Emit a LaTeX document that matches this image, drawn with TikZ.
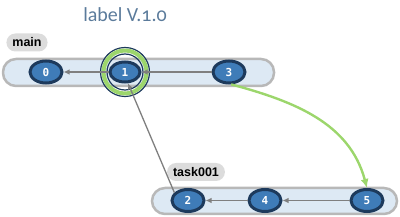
\documentclass[tikz,border=0pt]{standalone}
\usepackage{fontspec}
\setmainfont{Liberation Sans}
\newfontfamily\titlefont[Numbers=OldStyle]{Carlito}
\newfontfamily\commitfont{DejaVu Sans Mono}
\usetikzlibrary{shapes.geometric,arrows.meta}
\definecolor{commitfill}{HTML}{3F7CB8}
\definecolor{commitdraw}{HTML}{1D3A5C}
\definecolor{barfill}{HTML}{DDE9F4}
\definecolor{bardraw}{HTML}{B8B8B8}
\definecolor{tagfill}{HTML}{DCDCDC}
\definecolor{linkgray}{HTML}{7F7F7F}
\definecolor{mergegreen}{HTML}{9CD66C}
\definecolor{titleblue}{HTML}{5B7B9B}
\begin{document}
\begin{tikzpicture}[x=1pt, y=1pt, node distance=79pt]
        % Style Definitions
        \tikzstyle{commit} = [ellipse, draw=commitdraw, fill=commitfill, line width=3pt, minimum width=32pt, minimum height=22pt, inner sep=0pt, text=white, font=\commitfont\bfseries\fontsize{11}{11}\selectfont]
        \tikzstyle{branch} = [rectangle, rounded corners=9pt, fill=tagfill, minimum height=18pt, inner xsep=6pt, font=\bfseries\fontsize{12.5}{13}\selectfont]
        \tikzstyle{lane} = [draw=bardraw, fill=barfill, line width=2.5pt, rounded corners=13pt]
        \tikzstyle{parent} = [draw=linkgray, line width=1.3pt, -{Latex[length=6pt, width=5.5pt]}]
        \tikzstyle{merge} = [draw=mergegreen, line width=2.4pt, -{Latex[length=9pt, width=8pt]}]

        \useasboundingbox (0,0) rectangle (400,217);

        % Lanes
        \draw[lane] (3,131) rectangle (274,158);
        \draw[lane] (152,3) rectangle (397,29);

        % Labels
        \node (title) at (125,202) [text=titleblue, font=\titlefont\fontsize{20}{22}\selectfont] {label V.1.0};
        \node (mainlabel) [branch] at (27,174.5) {main};
        \node (tasklabel) [branch] at (196,45) {task001};

        % Tag ring
        \coordinate (tagpos) at (125,145);
        \draw[commitdraw, line width=1.2pt] (tagpos) circle (24.5pt);
        \draw[mergegreen, line width=4pt] (tagpos) circle (21.5pt);
        \draw[commitdraw, line width=1.2pt] (tagpos) circle (18pt);

        % Commits
        \node (c1) [commit, minimum width=30pt, minimum height=20pt] at (tagpos) {1};
        \node (c0) [commit, left of=c1] {0};
        \node (c3) [commit, right of=c1, xshift=25pt] {3};
        \node (c2) [commit] at (188,16.5) {2};
        \node (c4) [commit, right of=c2, xshift=-2pt] {4};
        \node (c5) [commit, right of=c4, xshift=23pt] {5};

        % Arrows
        \draw[parent] (c1) -- (c0);
        \draw[parent] (c3) -- (c1);
        \draw[parent] (c4) -- (c2);
        \draw[parent] (c5) -- (c4);
        \draw[parent] (c2.150) -- (c1.-75);
        \draw[merge] (c3.-80) to[out=-15, in=105] (c5.north);

    \end{tikzpicture}
\end{document}
